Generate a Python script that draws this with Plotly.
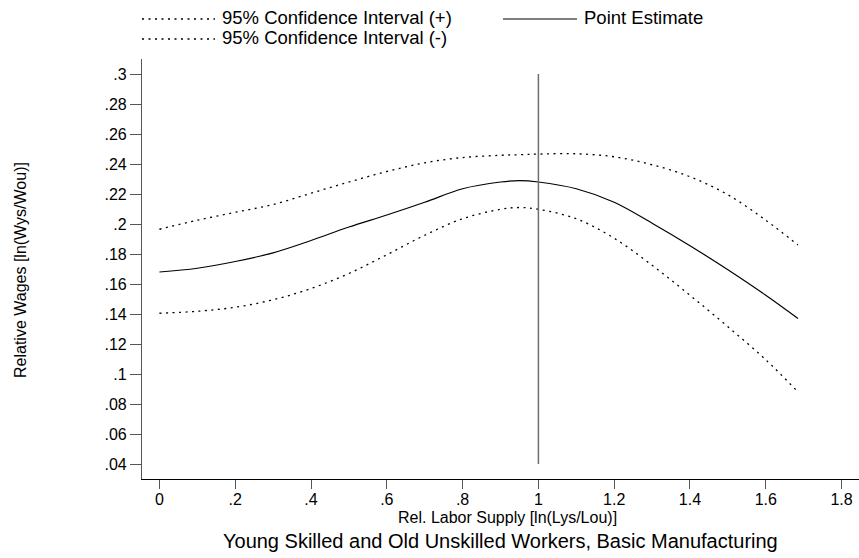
import plotly.graph_objects as go

# Data
x_vals = [0.0, 0.1, 0.2, 0.3, 0.4, 0.5, 0.6, 0.7, 0.8, 0.9, 0.95, 1.0, 1.1, 1.2, 1.3, 1.4, 1.5, 1.6, 1.685]
point_est = [0.168, 0.1705, 0.175, 0.1808, 0.189, 0.198, 0.206, 0.2145, 0.2235, 0.228, 0.2289, 0.228, 0.2235, 0.2145, 0.2005, 0.1855, 0.1695, 0.1525, 0.137]
ci_upper = [0.1965, 0.2025, 0.2078, 0.213, 0.2205, 0.228, 0.235, 0.2408, 0.2443, 0.2458, 0.2462, 0.2466, 0.2468, 0.2448, 0.2395, 0.2315, 0.2195, 0.2025, 0.186]
ci_lower = [0.1405, 0.1418, 0.1445, 0.1495, 0.157, 0.167, 0.1795, 0.1925, 0.2035, 0.2098, 0.211, 0.2098, 0.2035, 0.1905, 0.1725, 0.1525, 0.1315, 0.1095, 0.088]
vline_x = [1.0, 1.0]
vline_y = [0.04, 0.30]

x_ticks = [0, 0.2, 0.4, 0.6, 0.8, 1.0, 1.2, 1.4, 1.6, 1.8]
x_tick_text = ["0", ".2", ".4", ".6", ".8", "1", "1.2", "1.4", "1.6", "1.8"]
y_ticks = [0.04, 0.06, 0.08, 0.10, 0.12, 0.14, 0.16, 0.18, 0.20, 0.22, 0.24, 0.26, 0.28, 0.30]
y_tick_text = [".04", ".06", ".08", ".1", ".12", ".14", ".16", ".18", ".2", ".22", ".24", ".26", ".28", ".3"]

legend_names = ["95% Confidence Interval (+)", "95% Confidence Interval (-)", "Point Estimate"]

FONT = "Liberation Sans, Arial, sans-serif"
DOT = "2px,4.5px"

fig = go.Figure()
fig.add_trace(go.Scatter(x=x_vals, y=ci_upper, mode="lines", name=legend_names[0],
                         line=dict(color="black", width=1.3, dash=DOT, shape="spline"), showlegend=False))
fig.add_trace(go.Scatter(x=x_vals, y=ci_lower, mode="lines", name=legend_names[1],
                         line=dict(color="black", width=1.3, dash=DOT, shape="spline"), showlegend=False))
fig.add_trace(go.Scatter(x=x_vals, y=point_est, mode="lines", name=legend_names[2],
                         line=dict(color="black", width=1.2, shape="spline"), showlegend=False))
fig.add_trace(go.Scatter(x=vline_x, y=vline_y, mode="lines", showlegend=False,
                         line=dict(color="#6e6e6e", width=1.5)))

W, H = 859, 558
ML, MR, MT, MB = 142, 0, 59, 79
PW, PH = W - ML - MR, H - MT - MB


def px(xp):
    return (xp - ML) / PW


def py(yp):
    return (H - MB - yp) / PH


shapes = []
annotations = []
# manual legend (samples + labels)
legend_items = [
    (legend_names[0], 142, 215, 19, DOT),
    (legend_names[1], 142, 215, 39, DOT),
    (legend_names[2], 503, 577, 19, "solid"),
]
for name, x0, x1, yy, dash in legend_items:
    shapes.append(dict(type="line", xref="paper", yref="paper",
                       x0=px(x0), x1=px(x1), y0=py(yy), y1=py(yy),
                       line=dict(color="black" if dash != "solid" else "#555555", width=1.3, dash=dash)))
    annotations.append(dict(xref="paper", yref="paper", x=px(x1 + 5), y=py(yy - 1),
                            text=name, showarrow=False, xanchor="left", yanchor="middle",
                            font=dict(family=FONT, size=18.5, color="black")))

annotations.append(dict(xref="paper", yref="paper", x=px(507), y=py(517),
                        text="Rel. Labor Supply [ln(Lys/Lou)]", showarrow=False,
                        xanchor="center", yanchor="middle",
                        font=dict(family=FONT, size=16, color="black")))
annotations.append(dict(xref="paper", yref="paper", x=px(500), y=py(541),
                        text="Young Skilled and Old Unskilled Workers, Basic Manufacturing",
                        showarrow=False, xanchor="center", yanchor="middle",
                        font=dict(family=FONT, size=20, color="black")))
annotations.append(dict(xref="paper", yref="paper", x=px(20), y=py(270),
                        text="Relative Wages [ln(Wys/Wou)]", showarrow=False, textangle=-90,
                        xanchor="center", yanchor="middle",
                        font=dict(family=FONT, size=16, color="black")))

fig.update_layout(
    width=W, height=H,
    margin=dict(l=ML, r=MR, t=MT, b=MB, pad=0),
    paper_bgcolor="white", plot_bgcolor="white",
    font=dict(family=FONT, size=15, color="black"),
    shapes=shapes, annotations=annotations,
    xaxis=dict(range=[-0.046, 1.846], tickvals=x_ticks, ticktext=x_tick_text,
               showgrid=False, zeroline=False, showline=True, linecolor="black", linewidth=1.2,
               ticks="outside", ticklen=9, tickcolor="#555555", tickwidth=1.2,
               ticklabelstandoff=-3,
               tickfont=dict(family=FONT, size=16, color="black")),
    yaxis=dict(range=[0.03, 0.31], tickvals=y_ticks, ticktext=y_tick_text,
               showgrid=False, zeroline=False, showline=True, linecolor="#555555", linewidth=1.2,
               ticks="outside", ticklen=11, tickcolor="#555555", tickwidth=1.2,
               tickfont=dict(family=FONT, size=16, color="black")),
)

fig.write_html("out.html", config={"displayModeBar": False})

# remove the default browser body margin so the figure sits at the page origin
with open("out.html", "r", encoding="utf-8") as f:
    html = f.read()
html = html.replace("<head>", "<head><style>html,body{margin:0;padding:0;overflow:hidden;}</style>", 1)
with open("out.html", "w", encoding="utf-8") as f:
    f.write(html)
